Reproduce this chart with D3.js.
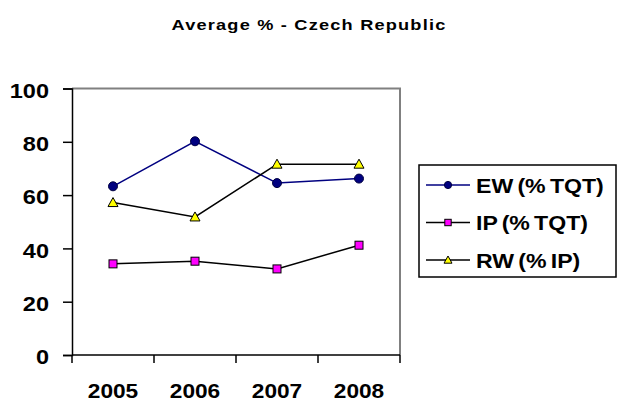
<!DOCTYPE html>
<html>
<head>
<meta charset="utf-8">
<script src="https://cdn.jsdelivr.net/npm/d3@7"></script>
<style>
  body { margin: 0; background: #fff; }
  text { font-family: Arial, "Liberation Sans", sans-serif; font-weight: bold; fill: #000; }
</style>
</head>
<body>
<script>

var years = ['2005', '2006', '2007', '2008'];
var ew = [63.3, 80.2, 64.5, 66.2];
var ip = [34.2, 35.2, 32.3, 41.2];
var rw = [57.2, 51.8, 71.6, 71.6];
var yTicks = [0, 20, 40, 60, 80, 100];
var seriesNames = ['EW (% TQT)', 'IP (% TQT)', 'RW (% IP)'];

var width = 617;
var height = 403;
var plotLeft = 72;
var plotRight = 400;
var plotTop = 88.5;
var plotBottom = 355;

var svg = d3.select('body')
  .append('svg')
    .attr('width', width)
    .attr('height', height);

svg.append('rect')
  .attr('width', width)
  .attr('height', height)
  .attr('fill', '#fff');

// widen glyphs a little, the source was drawn slightly stretched
function stretch(sel, factor) {
  sel.each(function() {
    var w = this.getComputedTextLength();
    d3.select(this)
      .attr('textLength', w * factor)
      .attr('lengthAdjust', 'spacingAndGlyphs');
  });
}

// title
svg.append('text')
  .attr('x', 309)
  .attr('y', 29.5)
  .attr('text-anchor', 'middle')
  .style('font-size', '15px')
  .style('letter-spacing', '1px')
  .attr('textLength', 275)
  .attr('lengthAdjust', 'spacingAndGlyphs')
  .text('Average % - Czech Republic');

var x = d3.scaleBand()
  .domain(years)
  .range([plotLeft, plotRight]);

var y = d3.scaleLinear()
  .domain([0, 100])
  .range([plotBottom, plotTop]);

// plot area border (top/right grey)
svg.append('path')
  .attr('d', 'M' + plotLeft + ',' + plotTop + 'H' + plotRight + 'V' + plotBottom)
  .attr('fill', 'none')
  .attr('stroke', '#808080')
  .attr('stroke-width', 2);

// y axis
var yAxis = svg.append('g')
  .attr('transform', 'translate(' + plotLeft + ',0)')
  .call(d3.axisLeft(y).tickValues(yTicks).tickSize(9).tickPadding(14));
yAxis.select('.domain').attr('stroke', '#000').attr('stroke-width', 1.5);
yAxis.selectAll('.tick line').attr('stroke', '#000').attr('stroke-width', 1.5);
yAxis.selectAll('.tick text')
  .style('font-size', '21px')
  .style('font-family', 'Arial, "Liberation Sans", sans-serif')
  .style('font-weight', 'bold')
  .attr('dy', '0.42em')
  .call(stretch, 1.12);

// x axis: labels centred, ticks on category boundaries
var xAxis = svg.append('g')
  .attr('transform', 'translate(0,' + plotBottom + ')')
  .call(d3.axisBottom(x).tickSize(0).tickPadding(28));
xAxis.select('.domain').remove();
xAxis.selectAll('.tick text')
  .style('font-size', '21px')
  .style('font-family', 'Arial, "Liberation Sans", sans-serif')
  .style('font-weight', 'bold')
  .attr('dy', '0.71em')
  .call(stretch, 1.08);

xAxis.append('line')
  .attr('x1', plotLeft)
  .attr('x2', plotRight)
  .attr('stroke', '#000')
  .attr('stroke-width', 1.5);

var bounds = years.map(d => x(d)).concat([x(years[years.length - 1]) + x.bandwidth()]);
xAxis.selectAll('.bound')
  .data(bounds)
  .enter()
  .append('line')
    .attr('class', 'bound')
    .attr('x1', d => d)
    .attr('x2', d => d)
    .attr('y1', 0)
    .attr('y2', 8)
    .attr('stroke', '#000')
    .attr('stroke-width', 1.5);

var cx = d => x(d) + x.bandwidth() / 2;

var series = [
  { name: seriesNames[0], values: ew, line: '#000080', fill: '#000080', stroke: '#000040', shape: 'circle' },
  { name: seriesNames[1], values: ip, line: '#000', fill: '#ff00ff', stroke: '#000', shape: 'square' },
  { name: seriesNames[2], values: rw, line: '#000', fill: '#ffff00', stroke: '#000', shape: 'triangle' }
];

function marker(g, s, px, py, scale) {
  if (s.shape === 'circle') {
    g.append('circle')
      .attr('cx', px).attr('cy', py).attr('r', 4.5 * scale)
      .attr('fill', s.fill).attr('stroke', s.stroke).attr('stroke-width', 1);
  } else if (s.shape === 'square') {
    var h = 4 * scale;
    g.append('rect')
      .attr('x', px - h).attr('y', py - h).attr('width', 2 * h).attr('height', 2 * h)
      .attr('fill', s.fill).attr('stroke', s.stroke).attr('stroke-width', 1);
  } else {
    var r = 5 * scale;
    g.append('path')
      .attr('d', 'M' + px + ',' + (py - r) + 'L' + (px + r) + ',' + (py + r * 0.8) + 'L' + (px - r) + ',' + (py + r * 0.8) + 'Z')
      .attr('fill', s.fill).attr('stroke', s.stroke).attr('stroke-width', 1);
  }
}

var line = d3.line()
  .x((d, i) => cx(years[i]))
  .y(d => y(d));

var plot = svg.append('g');
series.forEach(s => {
  plot.append('path')
    .attr('d', line(s.values))
    .attr('fill', 'none')
    .attr('stroke', s.line)
    .attr('stroke-width', 1.5);
});
series.forEach(s => {
  s.values.forEach((v, i) => marker(plot, s, cx(years[i]), y(v), 1));
});

// legend
var legend = svg.append('g');
legend.append('rect')
  .attr('x', 419)
  .attr('y', 165)
  .attr('width', 197)
  .attr('height', 112)
  .attr('fill', '#fff')
  .attr('stroke', '#000')
  .attr('stroke-width', 1.5);

series.forEach((s, i) => {
  var ly = 185 + i * 37.5;
  legend.append('line')
    .attr('x1', 426).attr('x2', 470)
    .attr('y1', ly).attr('y2', ly)
    .attr('stroke', s.line)
    .attr('stroke-width', 1.5);
  marker(legend, s, 448, ly, 0.8);
  legend.append('text')
    .attr('x', 476)
    .attr('y', ly)
    .attr('dy', '0.36em')
    .style('font-size', '21px')
    .style('word-spacing', '-2px')
    .text(s.name)
    .call(stretch, 1.1);
});

</script>
</body>
</html>
